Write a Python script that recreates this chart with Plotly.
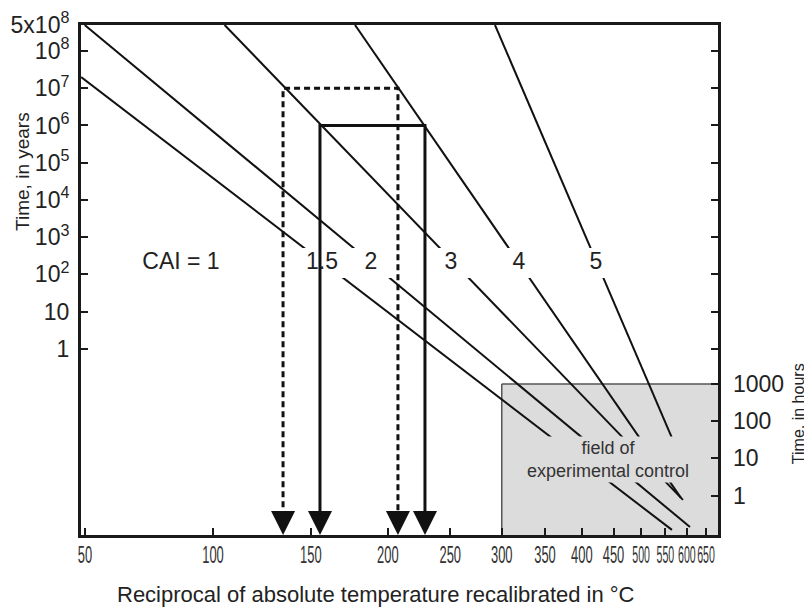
import numpy as np
import plotly.graph_objects as go

HOURS_PER_YEAR = 8766.0

# ---------------- data ----------------
x_tick_temps_c = [50, 100, 150, 200, 250, 300, 350, 400, 450, 500, 550, 600, 650]
year_tick_vals = [5e8, 1e8, 1e7, 1e6, 1e5, 1e4, 1e3, 1e2, 10, 1]
year_tick_text = ["5x10<sup>8</sup>", "10<sup>8</sup>", "10<sup>7</sup>", "10<sup>6</sup>",
                  "10<sup>5</sup>", "10<sup>4</sup>", "10<sup>3</sup>", "10<sup>2</sup>", "10", "1"]
hour_tick_vals = [1, 10, 100, 1000]
hour_tick_text = ["1", "10", "100", "1000"]

# CAI isograds (straight lines in 1/T vs log t space)
cai_labels = ["1.5", "2", "3", "4", "5"]
line_start_temp_c = [48.7, 49.9, 105.3, 177.3, 292.9]
line_start_years = [2.0e7, 5.0e8, 5.0e8, 5.0e8, 5.0e8]
line_end_temp_c = [564.7, 607.8, 590.5, 585.7, 564.7]
line_end_years = [1.37e-5, 1.64e-5, 8.75e-5, 9.9e-5, 4.05e-3]

# label positions (temperature, years)
label_texts = ["CAI = 1", "1.5", "2", "3", "4", "5"]
label_temp_c = [86.1, 156.6, 188.0, 250.6, 318.9, 421.4]
label_years = [203, 203, 203, 203, 203, 203]

# white label band behind the labels
band_temp_c = [137.2, 449.1]
band_years = [80, 513]

# example read-offs: 10^7 years (dashed) and 10^6 years (solid)
dashed_temp_c = [134.5, 207.4]
dashed_years = 1e7
solid_temp_c = [155.4, 228.5]
solid_years = 1e6

# field of experimental control (in hours)
field_temp_c = [300, 720]
field_hours = [1000, 0.01]

# ---------------- helpers ----------------
def recip(t_c):
    return 1000.0 / (np.asarray(t_c, dtype=float) + 273.15)

X_RANGE = [3.1074, 1.0444]
Y_RANGE = [-5.0, 8.699]
Y2_RANGE = [Y_RANGE[0] + np.log10(HOURS_PER_YEAR), Y_RANGE[1] + np.log10(HOURS_PER_YEAR)]
AXIS_BOTTOM_YEARS = 10 ** Y_RANGE[0]
ARROW_LINE_END = 3e-5

FONT = "Liberation Sans, Arial, Helvetica, sans-serif"
INK = "#1a1a1a"

fig = go.Figure()

# gray field box
fx0, fx1 = recip(field_temp_c)
fy_top, fy_bot = [h / HOURS_PER_YEAR for h in field_hours]
fig.add_trace(go.Scatter(
    x=[fx0, fx1, fx1, fx0, fx0], y=[fy_top, fy_top, fy_bot, fy_bot, fy_top],
    mode="lines", fill="toself", fillcolor="#dcdcdc",
    line=dict(color="#555555", width=1.5), hoverinfo="skip", showlegend=False))

# CAI lines
for lab, t0, y0, t1, y1 in zip(cai_labels, line_start_temp_c, line_start_years,
                               line_end_temp_c, line_end_years):
    fig.add_trace(go.Scatter(x=recip([t0, t1]), y=[y0, y1], mode="lines",
                             line=dict(color="#111111", width=2),
                             name="CAI " + lab, showlegend=False, hoverinfo="skip"))

# white band behind labels
bx0, bx1 = recip(band_temp_c)
fig.add_trace(go.Scatter(
    x=[bx0, bx1, bx1, bx0, bx0], y=[band_years[0], band_years[0], band_years[1], band_years[1], band_years[0]],
    mode="lines", fill="toself", fillcolor="white", line=dict(color="rgba(0,0,0,0)", width=0),
    hoverinfo="skip", showlegend=False))

# labels
fig.add_trace(go.Scatter(x=recip(label_temp_c), y=label_years, mode="text", text=label_texts,
                         textposition="middle center",
                         textfont=dict(family=FONT, size=23, color="#222222"),
                         hoverinfo="skip", showlegend=False))

# dashed read-off
dx = recip(dashed_temp_c)
fig.add_trace(go.Scatter(x=[dx[0], dx[0], dx[1], dx[1]],
                         y=[ARROW_LINE_END, dashed_years, dashed_years, ARROW_LINE_END],
                         mode="lines", line=dict(color="#111111", width=3, dash="6px,4px"),
                         hoverinfo="skip", showlegend=False))
# solid read-off
sx = recip(solid_temp_c)
fig.add_trace(go.Scatter(x=[sx[0], sx[0], sx[1], sx[1]],
                         y=[ARROW_LINE_END, solid_years, solid_years, ARROW_LINE_END],
                         mode="lines", line=dict(color="#111111", width=3),
                         hoverinfo="skip", showlegend=False))

# dummy trace for hours axis
fig.add_trace(go.Scatter(x=[recip(400)], y=[10], yaxis="y2", mode="markers",
                         marker=dict(opacity=0), hoverinfo="skip", showlegend=False))

annotations = []
for xv in list(dx) + list(sx):
    annotations.append(dict(x=xv, y=np.log10(AXIS_BOTTOM_YEARS), xref="x", yref="y", text="",
                            showarrow=True, arrowhead=2, arrowwidth=3, arrowsize=1.6,
                            arrowcolor="#111111", ax=0, ay=-25, standoff=0))

annotations.append(dict(x=float(recip(440.7)), y=np.log10(1.04e-3), xref="x", yref="y",
                        xanchor="center", yanchor="middle",
                        text="field of<br>experimental control", showarrow=False,
                        font=dict(family=FONT, size=18, color="#333333"),
                        bgcolor="#dcdcdc", borderpad=1, align="center"))

annotations.append(dict(x=0.463, y=-0.1157, xref="paper", yref="paper",
                        xanchor="center", yanchor="middle",
                        text="Reciprocal of absolute temperature recalibrated in °C",
                        showarrow=False, font=dict(family=FONT, size=22, color="#222222")))
annotations.append(dict(x=-0.091, y=0.712, xref="paper", yref="paper", text="Time, in years",
                        xanchor="center", yanchor="middle",
                        textangle=-90, showarrow=False,
                        font=dict(family=FONT, size=19, color="#222222")))
annotations.append(dict(x=1.1256, y=0.237, xref="paper", yref="paper", text="Time, in hours",
                        xanchor="center", yanchor="middle",
                        textangle=-90, showarrow=False,
                        font=dict(family=FONT, size=16, color="#222222")))

fig.update_layout(
    width=804, height=610,
    margin=dict(l=81, r=86, t=25, b=75, autoexpand=False),
    paper_bgcolor="white", plot_bgcolor="white",
    showlegend=False,
    font=dict(family=FONT, color="#222222"),
    annotations=annotations,
    xaxis=dict(range=X_RANGE, tickvals=list(recip(x_tick_temps_c)),
               ticktext=[str(t) for t in x_tick_temps_c], tickangle=0, automargin=False,
               ticks="inside", ticklen=7, tickwidth=2, tickcolor=INK,
               showline=True, linewidth=3, linecolor=INK, mirror=True,
               showgrid=False, zeroline=False, ticklabelstandoff=-3,
               tickfont=dict(family=FONT, size=23, color="#333333")),
    yaxis=dict(type="log", range=Y_RANGE, tickvals=year_tick_vals, ticktext=year_tick_text,
               ticks="inside", ticklen=7, tickwidth=2, tickcolor=INK, automargin=False,
               showline=True, linewidth=3, linecolor=INK, mirror="ticks",
               showgrid=False, zeroline=False, ticklabelstandoff=4,
               tickfont=dict(family=FONT, size=23, color="#222222")),
    yaxis2=dict(type="log", range=Y2_RANGE, overlaying="y", side="right", automargin=False,
                tickvals=hour_tick_vals, ticktext=hour_tick_text,
                ticks="inside", ticklen=7, tickwidth=2, tickcolor=INK,
                showline=False, showgrid=False, zeroline=False, ticklabelstandoff=14,
                tickfont=dict(family=FONT, size=23, color="#222222")),
)

# page without body margin, and a condensed look for the x tick labels
# (the original uses a narrow typeface)
post_js = """
document.body.style.margin = '0';
document.body.style.overflow = 'hidden';
var gd = document.getElementById('{plot_id}');
function squeeze() {
  gd.querySelectorAll('.xtick text').forEach(function (t) {
    var s = t.textContent;
    var per = (parseInt(s, 10) >= 500) ? 5.9 : 7.2;
    t.setAttribute('textLength', (s.length * per).toFixed(1));
    t.setAttribute('lengthAdjust', 'spacingAndGlyphs');
  });
}
squeeze();
gd.on('plotly_afterplot', squeeze);
"""

fig.write_html("out.html", post_script=post_js, config={"displayModeBar": False})
